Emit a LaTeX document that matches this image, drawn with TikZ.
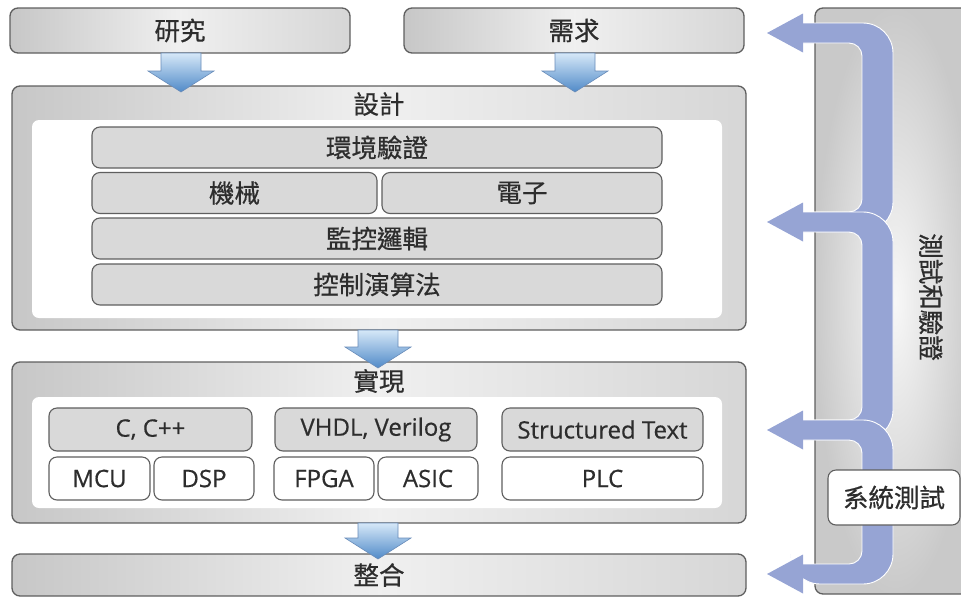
\documentclass[tikz,border=0pt]{standalone}
\usepackage{fontspec}
\setmainfont{Open Sans}[FakeBold=0.5]
\newfontfamily\cjk{Noto Sans CJK TC}[FakeBold=0.6]
\definecolor{loopblue}{RGB}{150,164,212}
\definecolor{edgegray}{RGB}{95,95,95}
\definecolor{atop}{RGB}{214,232,248}
\definecolor{abot}{RGB}{80,138,200}
\definecolor{aedge}{RGB}{105,140,185}
\definecolor{txt}{RGB}{45,45,45}
\newcommand\blockdown[3]{\draw[barrowstyle] (#1-20,#2) -- (#1+20,#2) -- (#1+20,#3-21) -- (#1+33,#3-21) -- (#1,#3) -- (#1-33,#3-21) -- (#1-20,#3-21) -- cycle;}
\newcommand\loopseg[2]{\filldraw[loopstyle] (790,#1-10) [rounded corners=30pt] -- (893,#1-10) -- (893,#2+10) -- (790,#2+10) [sharp corners] -- (790,#2-10) [rounded corners=13pt] -- (862,#2-10) -- (862,#1+10) -- (790,#1+10) [sharp corners] -- cycle;}
\newcommand\loophead[1]{\fill[loopblue] (767,#1) -- (803,#1-19.5) -- (803,#1+19.5) -- cycle;}
\begin{document}
\begin{tikzpicture}[x=1pt,y=-1pt,
  every node/.style={inner sep=0pt,outer sep=0pt},
  bigbox/.style={draw=edgegray,line width=1.3pt,rounded corners=8pt,left color=gray!44,right color=gray!32,middle color=gray!12},
  panel/.style={fill=white,rounded corners=7pt},
  graycell/.style={draw=edgegray,line width=1.1pt,rounded corners=8pt,fill=gray!30},
  whitecell/.style={draw=edgegray,line width=1.1pt,rounded corners=8pt,fill=white},
  cjktext/.style={font=\cjk\fontsize{25.5}{28}\selectfont,text=txt},
  lattext/.style={font=\fontsize{24}{28}\selectfont,text=txt},
  barrowstyle/.style={draw=aedge,line width=0.6pt,top color=atop,bottom color=abot},
  loopstyle/.style={fill=loopblue,draw=white,line width=0.9pt}]
\useasboundingbox (0,0) rectangle (961,598);
% right column
\begin{scope}
\clip (0,0) rectangle (961,598);
\node[draw=edgegray,line width=1.3pt,rounded corners=8pt,minimum width=160pt,minimum height=586pt,shading=radial,inner color=gray!6,outer color=gray!42] (testcol) at (895,301) {};
\end{scope}
\node[cjktext,rotate=-90] (testlabel) at (931,297) {測試和驗證};
% top boxes
\node[bigbox,minimum width=340pt,minimum height=45pt,cjktext] (research) at (180,30.5) {研究};
\node[bigbox,minimum width=340pt,minimum height=45pt,cjktext] (req) at (574,30.5) {需求};
% design
\node[bigbox,minimum width=734pt,minimum height=244pt] (design) at (379,208) {};
\node[cjktext] (designlabel) at (379,104) {設計};
\node[panel,minimum width=690pt,minimum height=198pt] (dpanel) at (377,219) {};
\node[graycell,cjktext,minimum width=570pt,minimum height=41pt] (env) at (377,147.5) {環境驗證};
\node[graycell,cjktext,minimum width=285pt,minimum height=41pt] (mech) at (234.5,193) {機械};
\node[graycell,cjktext,minimum width=280pt,minimum height=41pt] (elec) at (522,193) {電子};
\node[graycell,cjktext,minimum width=570pt,minimum height=41pt] (superv) at (377,238.5) {監控邏輯};
\node[graycell,cjktext,minimum width=570pt,minimum height=41pt] (ctrl) at (377,284.5) {控制演算法};
% implementation
\node[bigbox,minimum width=734pt,minimum height=161pt] (impl) at (379,442.5) {};
\node[cjktext] (impllabel) at (379,381) {實現};
\node[panel,minimum width=690pt,minimum height=111pt] (ipanel) at (377,452.5) {};
\node[graycell,lattext,minimum width=203pt,minimum height=43pt] (cpp) at (150.5,429.5) {C, C++};
\node[whitecell,lattext,minimum width=101pt,minimum height=43pt] (mcu) at (99.5,478.5) {MCU};
\node[whitecell,lattext,minimum width=100pt,minimum height=43pt] (dsp) at (204,478.5) {DSP};
\node[graycell,lattext,minimum width=202pt,minimum height=43pt] (vhdl) at (376,429.5) {VHDL, Verilog};
\node[whitecell,lattext,minimum width=100pt,minimum height=43pt] (fpga) at (324,478.5) {FPGA};
\node[whitecell,lattext,minimum width=100pt,minimum height=43pt] (asic) at (428,478.5) {ASIC};
\node[graycell,lattext,minimum width=201pt,minimum height=43pt] (st) at (602.5,429.5) {Structured Text};
\node[whitecell,lattext,minimum width=201pt,minimum height=43pt] (plc) at (602.5,478.5) {PLC};
% integration
\node[bigbox,minimum width=734pt,minimum height=42pt,cjktext] (integ) at (379,575) {整合};
% block arrows
\blockdown{181}{53}{92}
\blockdown{575}{53}{92}
\blockdown{378}{330}{368}
\blockdown{378}{523}{559}
% feedback loop
\loopseg{33}{222}
\loopseg{222}{430}
\loopseg{430}{574}
\loophead{33}
\loophead{222}
\loophead{430}
\loophead{574}
\node[whitecell,cjktext,minimum width=132pt,minimum height=55pt] (systest) at (894,497.5) {系統測試};
\end{tikzpicture}
\end{document}
